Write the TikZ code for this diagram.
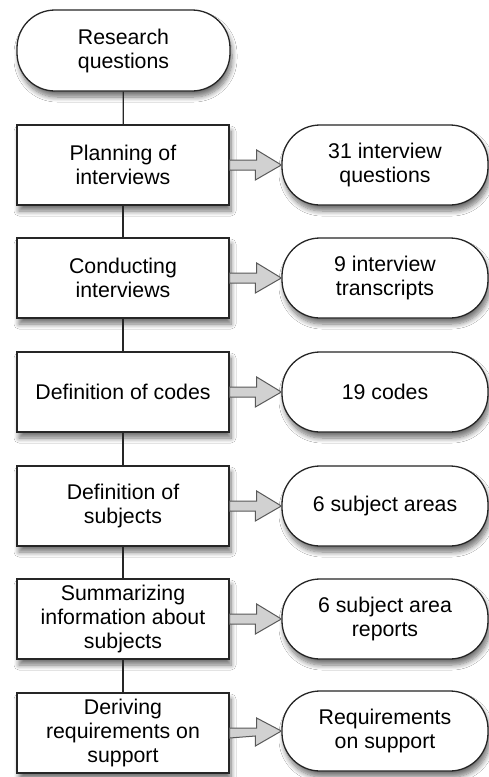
\documentclass[tikz,border=0pt]{standalone}
\usepackage{fontspec}
\setmainfont{Liberation Sans}
\usetikzlibrary{shadows.blur}
\begin{document}
\begin{tikzpicture}[x=1pt,y=1pt,
  base/.style={draw=black!85, line width=1.3pt, fill=white, align=center,
    font=\fontsize{21.3}{24}\selectfont, inner sep=0pt,
    blur shadow={shadow xshift=2pt, shadow yshift=-6pt, shadow blur steps=8, shadow blur radius=5pt, shadow opacity=55}},
  stepbox/.style={base, minimum width=212pt, minimum height=80pt},
  pill/.style={base, rounded corners=38pt, minimum width=206pt, minimum height=80pt},
  link/.style={draw=black!85, line width=1.2pt},
  barrow/.style={draw=black!65, fill=black!18, line width=1pt, line join=miter}
]
\useasboundingbox (0,0) rectangle (489,-777);
\fill[white] (0,0) rectangle (489,-777);
\node[pill, minimum width=213pt, minimum height=81pt] (r) at (123.5,-50.5) {Research\\questions};
\node[stepbox] (b1) at (123,-165) {Planning of\\interviews};
\node[stepbox] (b2) at (123,-278) {Conducting\\interviews};
\node[stepbox] (b3) at (123,-392) {Definition of codes};
\node[stepbox] (b4) at (123,-506) {Definition of\\subjects};
\node[stepbox] (b5) at (123,-619) {Summarizing\\information about\\subjects};
\node[stepbox] (b6) at (123,-733) {Deriving\\requirements on\\support};
\node[pill] (o1) at (385,-165) {31 interview\\questions};
\node[pill] (o2) at (385,-278) {9 interview\\transcripts};
\node[pill] (o3) at (385,-392) {19 codes};
\node[pill] (o4) at (385,-506) {6 subject areas};
\node[pill] (o5) at (385,-619) {6 subject area\\reports};
\node[pill] (o6) at (385,-731) {Requirements\\on support};
\draw[link] (r) -- (b1);
\foreach \a/\b in {b1/b2,b2/b3,b3/b4,b4/b5,b5/b6} \draw[link] (\a) -- (\b);
\foreach \i in {1,...,6}
  \path[barrow] ([yshift=5pt]b\i.east) -- ++(27,0) -- ++(0,10) -- (o\i.west)
     -- ++(-26,-15) -- ++(0,10) -- ([yshift=-5pt]b\i.east) -- cycle;
\end{tikzpicture}
\end{document}
